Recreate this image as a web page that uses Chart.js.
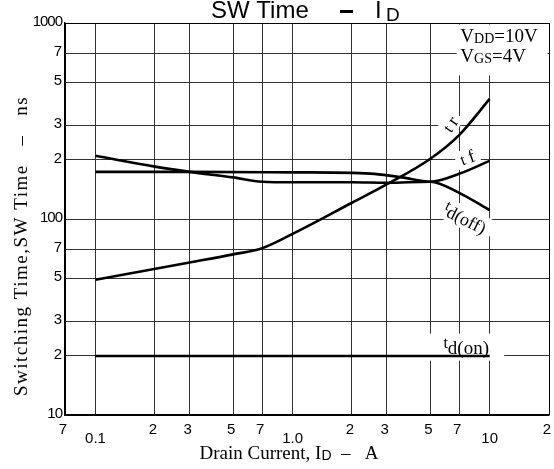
<!DOCTYPE html>
<html>
<head>
<meta charset="utf-8">
<script src="https://cdn.jsdelivr.net/npm/chart.js@4.4.0/dist/chart.umd.min.js"></script>
<style>
  html, body { margin: 0; padding: 0; background: #fff; }
  #wrap { width: 554px; height: 469px; }
</style>
</head>
<body>
<div id="wrap"><canvas id="chart" width="554" height="469"></canvas></div>
<script>
// drain current grid / tick values (A)
const xGrid = [0.07, 0.1, 0.2, 0.3, 0.5, 0.7, 1, 2, 3, 5, 7, 10, 20];
const xTickLabels = ["7", "0.1", "2", "3", "5", "7", "1.0", "2", "3", "5", "7", "10", "2"];
// switching time grid / tick values (ns)
const yGrid = [10, 20, 30, 50, 70, 100, 200, 300, 500, 700, 1000];
const yTickLabels = ["10", "2", "3", "5", "7", "100", "2", "3", "5", "7", "1000"];

// curves
const trId = [0.1, 0.3, 0.5, 0.7, 1.0, 2, 3, 5, 7, 10];
const trNs = [49, 60, 66, 71, 84, 121, 150, 203, 268, 410];

const tfId = [0.1, 0.3, 1.0, 2.0, 2.6, 3.6, 5, 7, 10];
const tfNs = [174, 174, 173, 172, 170, 163, 155, 170, 198];

const tdOffId = [0.1, 0.2, 0.3, 0.5, 0.7, 1.0, 2, 3, 5, 7, 10];
const tdOffNs = [210, 185, 174, 163, 155, 154, 154, 153, 155, 136, 111];

const tdOnId = [0.1, 10];
const tdOnNs = [20, 20];

const pts = (xs, ys) => xs.map((x, i) => ({ x: x, y: ys[i] }));

function curve(label, xs, ys) {
  return {
    label: label,
    data: pts(xs, ys),
    borderColor: "#000",
    borderWidth: 2.6,
    pointRadius: 0,
    fill: false,
    cubicInterpolationMode: "monotone",
    clip: false,
  };
}

const SERIF = "'Liberation Serif', 'DejaVu Serif', serif";
const SANS = "'Liberation Sans', Arial, sans-serif";

// draw a run of text pieces (for subscripts), returns width
function richText(ctx, parts, x, y, align) {
  let w = 0;
  parts.forEach((p) => {
    ctx.font = p.font;
    w += ctx.measureText(p.text).width;
  });
  let cx = align === "center" ? x - w / 2 : x;
  parts.forEach((p) => {
    ctx.font = p.font;
    ctx.fillText(p.text, cx, y + (p.dy || 0));
    cx += ctx.measureText(p.text).width;
  });
  return w;
}

// curve labels, anchored in data units
const curveLabels = [
  { x: 6.3, y: 305, rot: -55, parts: [{ text: "t ", font: "16px " + SERIF }, { text: "r", font: "18px " + SERIF }], box: [24, 18] },
  { x: 7.7, y: 206, rot: -20, parts: [{ text: "t ", font: "16px " + SERIF }, { text: "f", font: "18px " + SERIF }], box: [24, 18] },
  { x: 7.5, y: 101, rot: 27, parts: [{ text: "t", font: "15px " + SERIF, dy: -5 }, { text: "d(off)", font: "18px " + SERIF, dy: 1 }], box: [60, 22] },
  { x: 7.6, y: 22.2, rot: 0, parts: [{ text: "t", font: "16px " + SERIF, dy: -5 }, { text: "d(on)", font: "19px " + SERIF, dy: 1 }], box: [76, 27] },
];

const textPlugin = {
  id: "texts",
  beforeDatasetsDraw(chart) {
    const ctx = chart.ctx;
    const xs = chart.scales.x, ys = chart.scales.y, a = chart.chartArea;
    ctx.save();
    ctx.fillStyle = "#fff";
    // condition box in upper right
    const bx = xs.getPixelForValue(6.8);
    const by = ys.getPixelForValue(540);
    ctx.fillRect(bx, a.top + 1.5, a.right - 1.5 - bx, by - a.top - 1.5);
    curveLabels.forEach((l) => {
      ctx.save();
      ctx.translate(xs.getPixelForValue(l.x), ys.getPixelForValue(l.y));
      ctx.rotate((l.rot * Math.PI) / 180);
      ctx.fillRect(-l.box[0] / 2, -l.box[1] / 2, l.box[0], l.box[1]);
      ctx.restore();
    });
    ctx.restore();
  },
  afterDraw(chart) {
    const ctx = chart.ctx;
    const xs = chart.scales.x, ys = chart.scales.y, a = chart.chartArea;
    ctx.save();
    ctx.fillStyle = "#000";
    ctx.textBaseline = "alphabetic";

    // title
    ctx.font = "24px " + SANS;
    ctx.fillText("SW Time", 211, 18);
    ctx.fillRect(340, 10, 13, 3);
    ctx.fillText("I", 375, 18);
    ctx.font = "19px " + SANS;
    ctx.fillText("D", 386, 21);

    // x tick labels
    ctx.font = "15px " + SANS;
    ctx.textAlign = "center";
    xGrid.forEach((v, i) => {
      const t = xTickLabels[i];
      const lower = t.length > 1;
      ctx.fillText(t, xs.getPixelForValue(v) - (lower ? 0 : 2), a.bottom + (lower ? 28 : 19));
    });

    // y tick labels
    ctx.textAlign = "right";
    yGrid.forEach((v, i) => {
      const t = yTickLabels[i];
      ctx.font = "15px " + SANS;
      ctx.letterSpacing = t.length > 1 ? "-1px" : "0px";
      ctx.fillText(t, a.left - 3, ys.getPixelForValue(v) + 3);
    });
    ctx.letterSpacing = "0px";
    ctx.textAlign = "left";

    // x axis title
    richText(ctx, [
      { text: "Drain Current, I", font: "19px " + SERIF },
      { text: "D", font: "14px " + SANS, dy: 1 },
      { text: "  \u2013   A", font: "19px " + SERIF },
    ], 289, 459, "center");

    // y axis title
    ctx.save();
    ctx.translate(27, 246);
    ctx.rotate(-Math.PI / 2);
    ctx.font = "19px " + SERIF;
    ctx.letterSpacing = "1.5px";
    ctx.textAlign = "center";
    ctx.fillText("Switching Time,SW Time   \u2013   ns", 0, 0);
    ctx.restore();

    // conditions
    const vx = xs.getPixelForValue(7.1);
    richText(ctx, [
      { text: "V", font: "19px " + SERIF },
      { text: "DD", font: "14px " + SERIF, dy: 1 },
      { text: "=10V", font: "19px " + SERIF },
    ], vx, a.top + 19, "left");
    richText(ctx, [
      { text: "V", font: "19px " + SERIF },
      { text: "GS", font: "14px " + SERIF, dy: 1 },
      { text: "=4V", font: "19px " + SERIF },
    ], vx, a.top + 39, "left");

    // curve labels
    curveLabels.forEach((l) => {
      ctx.save();
      ctx.translate(xs.getPixelForValue(l.x), ys.getPixelForValue(l.y));
      ctx.rotate((l.rot * Math.PI) / 180);
      richText(ctx, l.parts, 0, 6, "center");
      ctx.restore();
    });
    ctx.restore();
  },
};

function gridColor(ctx) {
  const n = ctx.chart.scales[ctx.scale.id].ticks.length;
  return ctx.index === 0 || ctx.index === n - 1 ? "#000" : "#333";
}

new Chart(document.getElementById("chart"), {
  type: "line",
  data: {
    datasets: [
      curve("tr", trId, trNs),
      curve("tf", tfId, tfNs),
      curve("td(off)", tdOffId, tdOffNs),
      curve("td(on)", tdOnId, tdOnNs),
    ],
  },
  options: {
    responsive: false,
    animation: false,
    devicePixelRatio: 1,
    layout: { padding: { left: 65, right: 5, top: 23, bottom: 54 } },
    plugins: { legend: { display: false }, title: { display: false }, tooltip: { enabled: false } },
    scales: {
      x: {
        type: "logarithmic",
        min: 0.07,
        max: 20,
        afterBuildTicks: (s) => { s.ticks = xGrid.map((v) => ({ value: v })); },
        ticks: { display: false },
        grid: { color: gridColor, lineWidth: 1, drawTicks: false },
        border: { display: true, color: "#000", width: 1.5 },
      },
      y: {
        type: "logarithmic",
        min: 10,
        max: 1000,
        afterBuildTicks: (s) => { s.ticks = yGrid.map((v) => ({ value: v })); },
        ticks: { display: false },
        grid: { color: gridColor, lineWidth: 1, drawTicks: false },
        border: { display: true, color: "#000", width: 1.5 },
      },
    },
  },
  plugins: [textPlugin],
});
</script>
</body>
</html>
